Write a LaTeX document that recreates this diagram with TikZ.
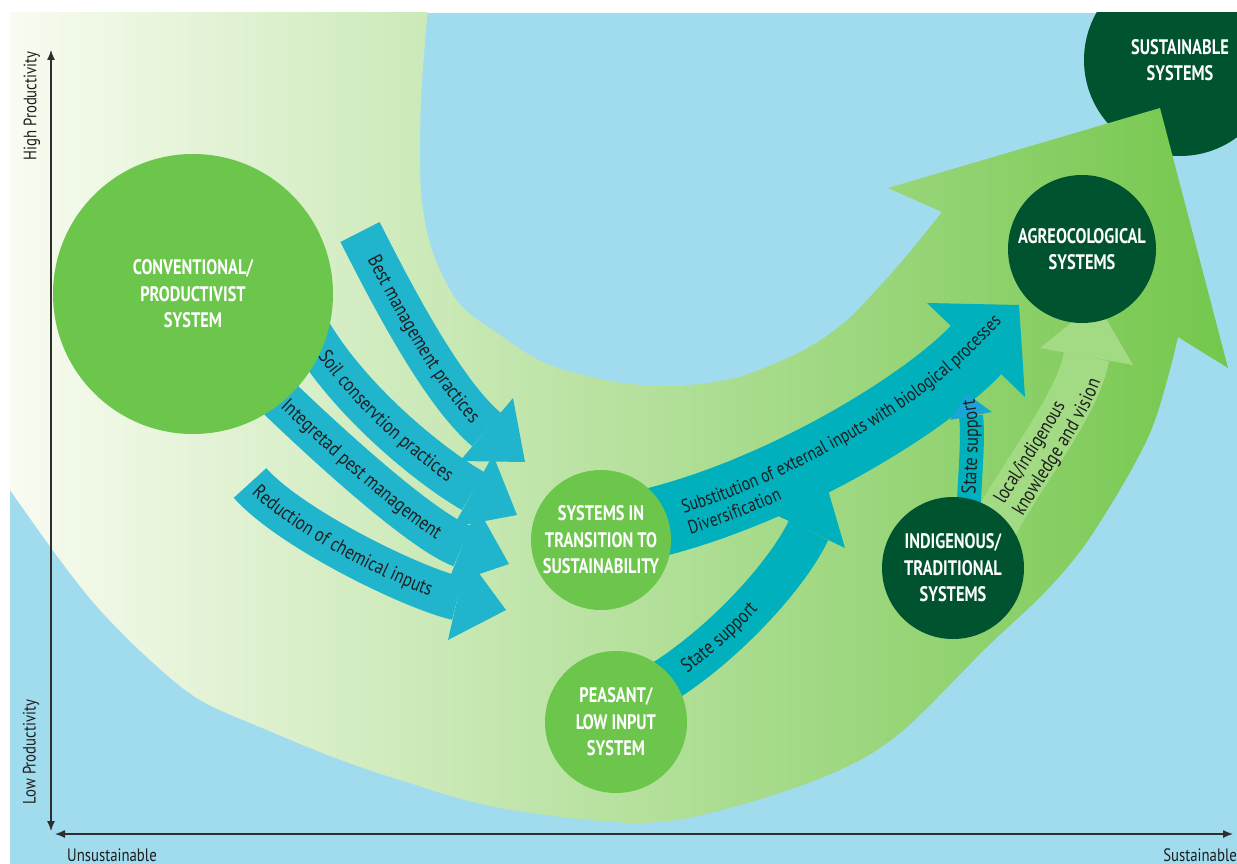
\documentclass[tikz,border=0pt]{standalone}
\usepackage{fontspec}
\setmainfont{PT Sans}
\newfontfamily\circfont{PT Sans}[FakeStretch=0.78]
\newfontfamily\arrfont{PT Sans}[FakeStretch=0.82]
\usetikzlibrary{decorations.text,arrows.meta}
\definecolor{bgblue}{HTML}{A1DCEE}
\definecolor{swL}{HTML}{FAFCF2}
\definecolor{swM}{HTML}{C0E3A1}
\definecolor{swR}{HTML}{74C74C}
\definecolor{lgreen}{HTML}{6CC64B}
\definecolor{dgreen}{HTML}{00532F}
\definecolor{tealA}{HTML}{20B5CD}
\definecolor{tealB}{HTML}{00B0BD}
\definecolor{headblue}{HTML}{1AA5D6}
\definecolor{lgarrow}{HTML}{A3DA84}
\definecolor{axiscol}{HTML}{2E2E2E}
\definecolor{txtdark}{HTML}{1E1E1E}
\newcommand\circtxt{\circfont\bfseries\fontsize{21}{26.5}\selectfont}
\newcommand\arrtxt{\arrfont\fontsize{20}{22}\selectfont\color{txtdark}}
\newcommand\subtxt{\arrfont\fontsize{19}{22}\selectfont\color{txtdark}}
\newcommand\axtxt{\arrfont\fontsize{18}{20}\selectfont\color{txtdark}}
\begin{document}
\begin{tikzpicture}[x=1pt,y=-1pt,
  circ/.style={circle, inner sep=0pt, align=center, text=white, font=\circtxt},
  shaftA/.style={line width=44pt, draw=tealA},
  lbl/.style={decorate, decoration={text along path,#1}},
  axisline/.style={draw=axiscol, line width=1.3pt, {Latex[length=10pt,width=8pt]}-{Latex[length=10pt,width=8pt]}},
  axlabel/.style={font=\axtxt, inner sep=0pt}]
\useasboundingbox (0,0) rectangle (1237,864);
\fill[white] (0,0) rectangle (1237,864);
\begin{scope}
\clip (10,13) rectangle (1237,864);
\fill[bgblue] (10,13) rectangle (1237,864);
\node[circ, fill=dgreen, minimum size=192pt] (sus) at (1180,60) {SUSTAINABLE\\SYSTEMS};
% swoosh
\shade[left color=swL, middle color=swM, right color=swR]
  (0,0) -- (428,0) -- plot[smooth, tension=0.55] coordinates {(428,8) (421,100) (421,190) (432,250) (458,302) (493,330) (545,363) (610,381) (670,386) (735,378) (800,352) (840,326) (867,300) (903,260) (942,212)}
  -- (888,188) -- (1160,108) -- (1228,368)
  -- plot[smooth, tension=0.55] coordinates {(1178,337) (1150,433) (1093,533) (1047,590) (987,647) (900,733) (833,773) (733,807) (640,823) (500,808) (400,780) (333,757) (267,730) (200,700) (150,660) (100,610) (60,560) (10,490) (0,476)}
  -- cycle;
% local knowledge arrow
\coordinate (k0) at (995,525);
\coordinate (k1) at (1086.5,356.5);
\draw[line width=46pt, lgarrow] (k0) .. controls (1023,472) and (1077.5,405.6) .. (k1);
\fill[lgarrow] (1040,348) -- (1096.4,302) -- (1133,365) -- cycle;
% substitution arrow
\coordinate (s0) at (620,530);
\coordinate (s1) at (976,350);
\draw[line width=70pt, tealB] (s0) .. controls (760,505) and (921,408) .. (s1);
\fill[tealB] (927,303) -- (1019,305) -- (1025,397) -- cycle;
% peasant state support
\coordinate (p0) at (650,690);
\coordinate (p1) at (808.5,530.5);
\draw[line width=44pt, tealB] (p0) .. controls (720,650) and (787,575.5) .. (p1);
\fill[tealB] (772,513) -- (828,490) -- (845,548) -- cycle;
% indigenous state support
\coordinate (i0) at (968,530);
\coordinate (i1) at (971,416);
\draw[line width=24pt, tealB] (i0) .. controls (969,480) and (974,440) .. (i1);
\fill[headblue] (950,420) -- (967,394) -- (992,412) -- cycle;
% four arrows from conventional
\coordinate (a1s) at (360,232); \coordinate (a1e) at (486.5,429.5);
\coordinate (a2s) at (300,315); \coordinate (a2e) at (473,491);
\coordinate (a3s) at (240,360); \coordinate (a3e) at (462,546);
\coordinate (a4s) at (250,483); \coordinate (a4e) at (457.5,598.5);
\draw[shaftA] (a1s) .. controls (387,285) and (440.5,391) .. (a1e);
\fill[tealA] (513,398) -- (525,462) -- (460,461) -- cycle;
\draw[shaftA] (a2s) .. controls (340,395) and (431,467) .. (a2e);
\fill[tealA] (493,455) -- (517,515) -- (453,527) -- cycle;
\draw[shaftA] (a3s) .. controls (305,425) and (417,529) .. (a3e);
\fill[tealA] (477,507) -- (509,564) -- (447,585) -- cycle;
\draw[shaftA] (a4s) .. controls (290,528) and (411,587.6) .. (a4e);
\fill[tealA] (467,557) -- (506,610) -- (448,640) -- cycle;
% circles
\node[circ, fill=lgreen, minimum size=280pt] (conv) at (193,294) {CONVENTIONAL/\\PRODUCTIVIST\\SYSTEM};
\node[circ, fill=lgreen, minimum size=140pt] (trans) at (601,540) {SYSTEMS IN\\TRANSITION TO\\SUSTAINABILITY};
\node[circ, fill=lgreen, minimum size=142pt] (peas) at (616,722) {PEASANT/\\LOW INPUT\\SYSTEM};
\node[circ, fill=dgreen, minimum size=142pt] (indig) at (953,568) {INDIGENOUS/\\TRADITIONAL\\SYSTEMS};
\node[circ, fill=dgreen, minimum size=148pt] (agro) at (1082,249) {AGREOCOLOGICAL\\SYSTEMS};
% labels along arrows
\path[lbl={text={|\arrtxt|Best management practices}, text align={left indent=28pt}, raise=-6pt}] (a1s) .. controls (387,285) and (440.5,391) .. (a1e);
\path[lbl={text={|\arrtxt|Soil conservtion practices}, text align={left indent=44pt}, raise=-6pt}] (a2s) .. controls (340,395) and (431,467) .. (a2e);
\path[lbl={text={|\arrtxt|Integretad pest management}, text align={left indent=62pt}, raise=-6pt}] (a3s) .. controls (305,425) and (417,529) .. (a3e);
\path[lbl={text={|\arrtxt|Reduction of chemical inputs}, text align={left indent=8pt}, raise=-6pt}] (a4s) .. controls (290,528) and (411,587.6) .. (a4e);
\path[lbl={text={|\subtxt|Substitution of external inputs with biological processes}, text align={left indent=66pt}, raise=1pt}] (s0) .. controls (760,505) and (921,408) .. (s1) -- (1050,275);
\path[lbl={text={|\subtxt|Diversification}, text align={left indent=66pt}, raise=-21pt}] (s0) .. controls (760,505) and (921,408) .. (s1);
\path[lbl={text={|\arrtxt|State support}, text align={left indent=40pt}, raise=-6pt}] (p0) .. controls (720,650) and (787,575.5) .. (p1);
\path[lbl={text={|\arrtxt|State support}, text align={left indent=36pt}, raise=-6pt}] (i0) .. controls (969,480) and (974,440) .. (i1) -- (963,360);
\path[lbl={text={|\arrtxt|local/indigenous}, text align={left indent=22pt}, raise=2pt}] (k0) .. controls (1023,472) and (1077.5,405.6) .. (k1) -- (1096,302);
\path[lbl={text={|\arrtxt|knowledge and vision}, text align={left indent=22pt}, raise=-20pt}] (k0) .. controls (1023,472) and (1077.5,405.6) .. (k1) -- (1096,302);
\end{scope}
% axes
\coordinate (ytop) at (51,50); \coordinate (ybot) at (51,831);
\coordinate (xl) at (55,834); \coordinate (xr) at (1233,834);
\draw[axisline] (ybot) -- (ytop);
\draw[axisline] (xl) -- (xr);
\node[axlabel, rotate=90] (lhigh) at (32,106) {High Productivity};
\node[axlabel, rotate=90] (llow) at (31,752) {Low Productivity};
\node[axlabel] (lunsus) at (112,855) {Unsustainable};
\node[axlabel, anchor=east] (lsus) at (1237,855) {Sustainable};
\end{tikzpicture}
\end{document}
